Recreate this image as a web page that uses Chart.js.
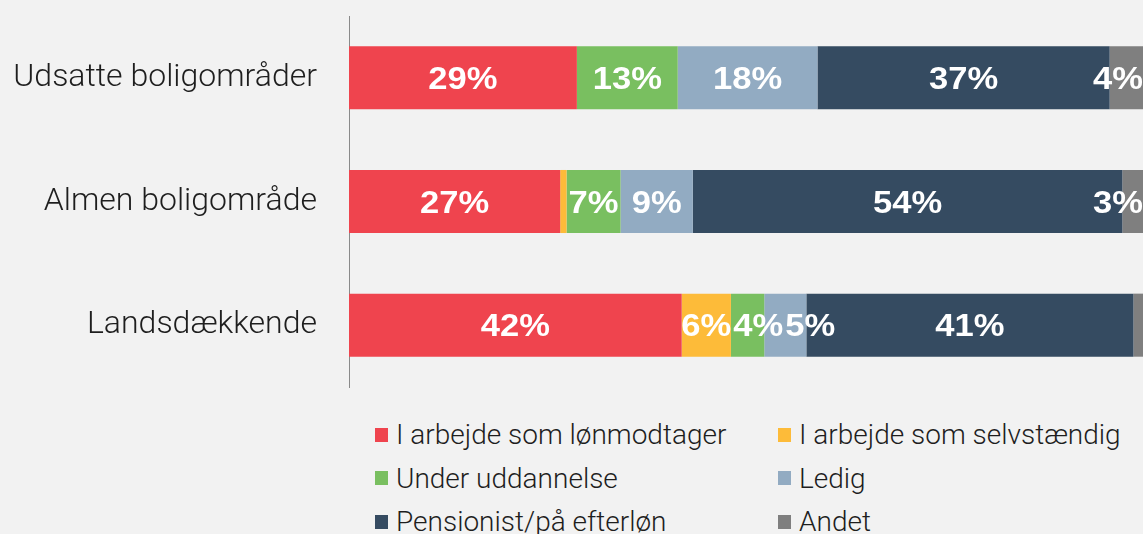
<!DOCTYPE html>
<html>
<head>
<meta charset="utf-8">
<script src="https://cdn.jsdelivr.net/npm/chart.js@4/dist/chart.umd.min.js"></script>
<style>
    html, body { margin: 0; padding: 0; background: #f2f2f2; }
    #wrap { position: relative; width: 1143px; height: 534px; overflow: hidden; }
    #box { position: absolute; left: 0; top: 0; width: 1143px; height: 400px; }
    #legend { position: absolute; left: 375px; top: 413px; display: grid;
              grid-template-columns: 403px 360px; row-gap: 0; font-family: Roboto, "Liberation Sans", Arial, sans-serif;
              font-weight: 300; font-size: 28px; color: #1e1e1e; }
    .item { height: 43.5px; display: flex; align-items: center; white-space: nowrap; }
    .swatch { width: 13px; height: 14px; margin-right: 8px; flex: none; }
</style>
</head>
<body>
<div id="wrap">
    <div id="box"><canvas id="myChart"></canvas></div>
    <div id="legend"></div>
</div>
<script>
// Categories (rows, top to bottom)
var categories = ['Udsatte boligområder', 'Almen boligområde', 'Landsdækkende'];

// Shares in percent
var lonmodtager  = [28.7, 26.6, 41.9];
var selvstaendig = [0.0, 0.8, 6.2];
var uddannelse   = [12.7, 6.8, 4.2];
var ledig        = [17.6, 9.1, 5.3];
var pensionist   = [36.8, 54.1, 41.2];
var andet        = [4.2, 2.6, 1.2];

var seriesNames = ['I arbejde som lønmodtager', 'I arbejde som selvstændig', 'Under uddannelse',
                   'Ledig', 'Pensionist/på efterløn', 'Andet'];
var seriesData = [lonmodtager, selvstaendig, uddannelse, ledig, pensionist, andet];
var seriesColors = ['#ef444e', '#fdbb39', '#79bf60', '#92abc2', '#354b61', '#7f7f7f'];

var datasets = [];
for (var i = 0; i < seriesNames.length; i++) {
    datasets.push({
        label: seriesNames[i],
        data: seriesData[i],
        backgroundColor: seriesColors[i],
        borderWidth: 0,
        categoryPercentage: 1,
        barPercentage: 0.51
    });
}

// Draws the white percentage text in the middle of every segment.
// Narrow segments push their label to the right so labels don't overlap,
// and the last one is kept inside the chart area.
var segmentLabels = {
    id: 'segmentLabels',
    afterDatasetsDraw: function(chart) {
        var ctx = chart.ctx;
        var sx = 1.08;
        var right = chart.chartArea.right;
        ctx.save();
        ctx.fillStyle = '#ffffff';
        ctx.font = 'bold 32px "Liberation Sans", Arial, sans-serif';
        ctx.textAlign = 'left';
        ctx.textBaseline = 'alphabetic';
        for (var j = 0; j < chart.data.labels.length; j++) {
            var prevRight = -Infinity;
            chart.data.datasets.forEach(function(ds, di) {
                var v = ds.data[j];
                if (v < 2) return;
                var bar = chart.getDatasetMeta(di).data[j];
                var txt = Math.round(v) + '%';
                var w = ctx.measureText(txt).width * sx;
                var x = (bar.x + bar.base) / 2 - w / 2;
                if (x < prevRight + 2) x = prevRight + 2;
                if (x + w > right) x = right - w;
                prevRight = x + w;
                ctx.save();
                ctx.translate(x, bar.y + 11);
                ctx.scale(sx, 1);
                ctx.fillText(txt, 0, 0);
                ctx.restore();
            });
        }
        ctx.restore();
    }
};

var myChart = new Chart(document.getElementById('myChart'), {
    type: 'bar',
    data: { labels: categories, datasets: datasets },
    plugins: [segmentLabels],
    options: {
        indexAxis: 'y',
        responsive: true,
        maintainAspectRatio: false,
        animation: false,
        layout: { padding: { top: 16, right: 0, bottom: 13, left: 0 } },
        plugins: {
            legend: { display: false },
            tooltip: { enabled: false }
        },
        scales: {
            x: {
                stacked: true,
                min: 0,
                max: 100,
                display: false
            },
            y: {
                stacked: true,
                grid: { display: false, drawTicks: false },
                border: { display: true, color: '#8a8a8a', width: 1 },
                ticks: {
                    padding: 32,
                    color: '#1e1e1e',
                    font: { family: 'Roboto, "Liberation Sans", Arial, sans-serif', size: 32, weight: 300 }
                },
                afterFit: function(scale) {
                    // fixed axis width and no extra room for the tick text above/below
                    scale.width = 349;
                    scale.paddingTop = 0;
                    scale.paddingBottom = 0;
                }
            }
        }
    }
});

// HTML legend in two columns
var legend = document.getElementById('legend');
for (var k = 0; k < seriesNames.length; k++) {
    var item = document.createElement('div');
    item.className = 'item';
    var sw = document.createElement('span');
    sw.className = 'swatch';
    sw.style.background = seriesColors[k];
    item.appendChild(sw);
    item.appendChild(document.createTextNode(seriesNames[k]));
    legend.appendChild(item);
}
</script>
</body>
</html>
